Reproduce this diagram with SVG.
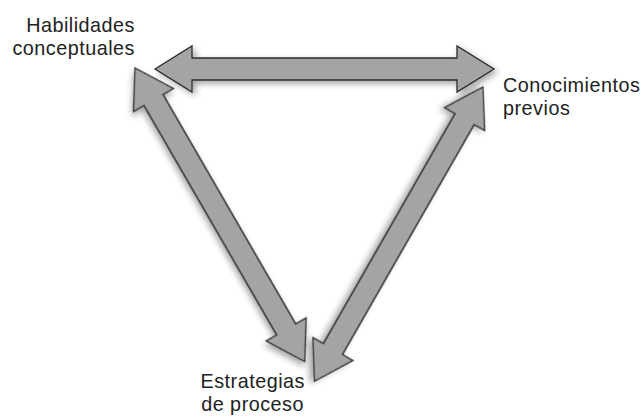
<svg xmlns="http://www.w3.org/2000/svg" width="644" height="420" viewBox="0 0 644 420">
<defs>
<filter id="sh" x="-20%" y="-20%" width="140%" height="140%">
<feDropShadow dx="3" dy="3" stdDeviation="3" flood-color="#000" flood-opacity="0.35"/>
</filter>
<path id="arr" d="M0,0 L37,-23 L37,-11 L302,-11 L302,-23 L339,0 L302,23 L302,11 L37,11 L37,23 Z"/>
</defs>
<style>
.a{fill:#a4a4a4;stroke:#2b2b2b;stroke-width:1.3;stroke-linejoin:miter;filter:url(#sh)}
.t{font-family:"Liberation Sans",Arial,sans-serif;font-size:19.8px;letter-spacing:0.5px;fill:#222}
</style>
<rect width="644" height="420" fill="#fff"/>
<g id="connectors">
<use href="#arr" class="a" transform="translate(155,69)"/>
<use href="#arr" class="a" transform="translate(135,68) rotate(59.96)"/>
<use href="#arr" class="a" transform="translate(483,87) rotate(119.8)"/>
</g>
<g id="habilidades">
<text class="t" text-anchor="end" x="135" y="32">Habilidades</text>
<text class="t" text-anchor="end" x="135" y="55">conceptuales</text>
</g>
<g id="conocimientos">
<text class="t" x="503" y="92">Conocimientos</text>
<text class="t" x="503" y="115">previos</text>
</g>
<g id="estrategias">
<text class="t" text-anchor="end" x="305" y="388">Estrategias</text>
<text class="t" text-anchor="end" x="304" y="411">de proceso</text>
</g>
</svg>
